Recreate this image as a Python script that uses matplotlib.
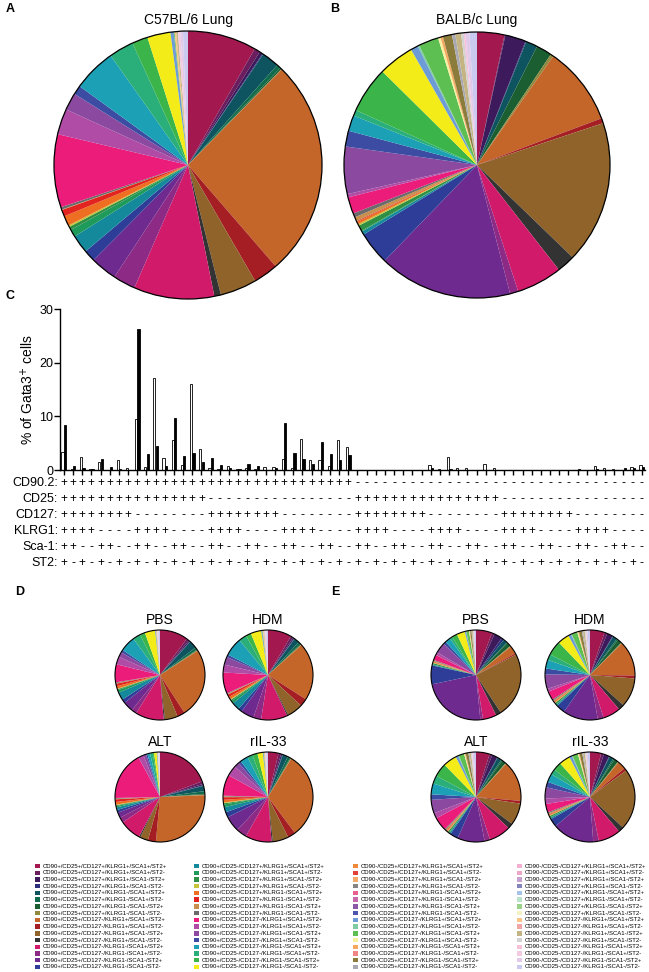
import matplotlib
matplotlib.use('Agg')
import matplotlib.pyplot as plt
import numpy as np
from matplotlib.patches import Circle, Rectangle
import matplotlib.transforms as mtransforms

plt.rcParams['font.family'] = ['Liberation Sans', 'DejaVu Sans']

# ---------------- data ----------------
markers = ['CD90.2', 'CD25', 'CD127', 'KLRG1', 'Sca-1', 'ST2']
legend_markers = ['CD90', 'CD25', 'CD127', 'KLRG1', 'SCA1', 'ST2']

colors = [
    '#A3194F', '#6B1D5E', '#3C1A5B', '#2C2D7C', '#0D5360', '#0F6B4C', '#1B5E31', '#8F8A3E',
    '#C4662A', '#A51E23', '#8F6329', '#333333', '#D21A6B', '#8C2A85', '#6E2A8E', '#2E3D98',
    '#14899C', '#1E9A5A', '#2F8F45', '#C5C43A', '#EE6F22', '#E2231F', '#C8904C', '#6B6B6B',
    '#EC1C7B', '#B04BA6', '#8B4AA0', '#3B4CA2', '#1BA0B6', '#2AAE7A', '#3BB54A', '#F3EC19',
    '#F08A3A', '#E2403A', '#F2A96A', '#858585', '#E9608F', '#C767AD', '#8C58A8', '#4E55AE',
    '#6C9BD6', '#7FCBA4', '#5DBE52', '#F7F0A0', '#F6A85E', '#EF8585', '#8C7C3C', '#A9A9B3',
    '#F3AFCF', '#EEA6C8', '#C7A0D2', '#8484BC', '#A4C2EA', '#BBE2CB', '#9AD18B', '#F2F2C2',
    '#F9C485', '#F1A5A5', '#C4B483', '#D2D2D2', '#F8C1D9', '#F2CAE2', '#E1CAE9', '#CACAF0',
]

# % of Gata3+ cells (panel C); also used for pies A (C57BL/6) and B (BALB/c)
balb = [3.3, 0.1, 2.5, 0.1, 1.4, 0.0, 1.9, 0.35,
        9.5, 0.6, 17.2, 2.2, 5.5, 1.0, 16.1, 4.0,
        0.4, 0.1, 0.7, 0.2, 0.3, 0.1, 0.5, 0.5,
        2.0, 0.4, 5.7, 1.9, 1.9, 0.7, 5.6, 4.3,
        0.0, 0.0, 0.0, 0.0, 0.0, 0.0, 0.0, 0.0,
        0.9, 0.2, 2.4, 0.3, 0.3, 0.0, 1.1, 0.4,
        0.0, 0.0, 0.0, 0.0, 0.0, 0.0, 0.0, 0.0,
        0.0, 0.0, 0.7, 0.3, 0.2, 0.0, 0.5, 0.9]
c57 = [8.3, 0.7, 0.4, 0.1, 2.1, 0.5, 0.2, 0.05,
       26.3, 3.0, 4.4, 0.8, 9.7, 2.7, 3.2, 1.4,
       2.2, 0.9, 0.4, 0.2, 1.2, 0.8, 0.05, 0.3,
       8.8, 3.1, 2.1, 1.1, 5.2, 3.0, 1.9, 2.8,
       0.0, 0.0, 0.0, 0.0, 0.0, 0.0, 0.0, 0.0,
       0.4, 0.0, 0.1, 0.0, 0.0, 0.0, 0.0, 0.0,
       0.0, 0.0, 0.0, 0.0, 0.0, 0.0, 0.0, 0.0,
       0.2, 0.0, 0.2, 0.0, 0.0, 0.3, 0.3, 0.6]

# Panel D (C57BL/6) and E (BALB/c) treatment pies
d_pbs = [11, 1, 0.5, 0.2, 3, 1, 0.3, 0.2, 27, 3, 5, 0.5, 11, 2, 4, 1.5,
         3, 1, 0.4, 0.2, 1, 1, 0.2, 0.3, 7, 3, 2, 1, 6, 3, 2, 4,
         0, 0, 0, 0, 0, 0, 0, 0, 0.3, 0, 0.1, 0, 0, 0, 0, 0,
         0, 0, 0, 0, 0, 0, 0, 0, 0.2, 0, 0.2, 0, 0, 0.3, 0.3, 0.5]
d_hdm = [9, 1, 0.5, 0.2, 2, 1, 0.3, 0.2, 22, 3, 6, 0.5, 10, 3, 5, 1.5,
         3, 1, 0.5, 0.3, 1, 1, 0.3, 0.3, 8, 3, 3, 1, 7, 3, 2, 4,
         0, 0, 0, 0, 0, 0, 0, 0, 0.4, 0, 0.2, 0, 0, 0, 0, 0,
         0, 0, 0, 0, 0, 0, 0, 0, 0.3, 0, 0.3, 0, 0, 0.4, 0.4, 0.6]
d_alt = [20, 1, 0.5, 0.2, 2, 1, 0.3, 0.2, 28, 3, 3, 0.5, 8, 2, 2, 1,
         1, 0.5, 0.3, 0.2, 1, 1, 0.2, 0.3, 18, 2, 1, 0.5, 1, 1, 0.5, 1,
         0, 0, 0, 0, 0, 0, 0, 0, 0.2, 0, 0.1, 0, 0, 0, 0, 0,
         0, 0, 0, 0, 0, 0, 0, 0, 0.1, 0, 0.1, 0, 0, 0.2, 0.2, 0.3]
d_il33 = [4, 1, 0.5, 0.2, 2, 1, 0.3, 0.2, 33, 3, 6, 0.5, 10, 4, 6, 2,
          2, 1, 0.5, 0.3, 1, 1, 0.3, 0.3, 8, 4, 2, 1, 3, 2, 2, 2,
          0, 0, 0, 0, 0, 0, 0, 0, 0.3, 0, 0.2, 0, 0, 0, 0, 0,
          0, 0, 0, 0, 0, 0, 0, 0, 0.2, 0, 0.2, 0, 0, 0.3, 0.3, 0.5]
e_pbs = [6, 1, 3, 1, 1.5, 0.3, 1.5, 0.3, 3, 0.5, 24, 2, 5, 1, 24, 7,
         0.3, 0.1, 0.5, 0.2, 0.3, 0.1, 0.3, 0.3, 2, 1, 4, 1, 2, 1, 2, 3,
         0, 0, 0, 0, 0, 0, 0, 0, 0.5, 0.1, 1, 0.2, 0.2, 0, 0.5, 0.2,
         0, 0, 0, 0, 0, 0, 0, 0, 0, 0, 0.4, 0.2, 0.1, 0, 0.3, 0.5]
e_hdm = [5, 1, 2, 0.2, 1.5, 0.5, 1.5, 0.3, 12, 1, 10, 2, 6, 2, 12, 3,
         0.5, 0.2, 0.5, 0.2, 0.3, 0.2, 0.4, 0.4, 3, 1, 5, 2, 3, 2, 5, 4,
         0, 0, 0, 0, 0, 0, 0, 0, 1, 0.2, 2, 0.3, 0.3, 0, 1, 0.4,
         0, 0, 0, 0, 0, 0, 0, 0, 0, 0, 0.6, 0.3, 0.2, 0, 0.5, 0.8]
e_alt = [5, 1, 2, 0.2, 1.5, 0.5, 1.5, 0.3, 15, 1, 8, 2, 8, 2, 10, 3,
         0.5, 0.2, 0.5, 0.2, 0.3, 0.2, 0.4, 0.4, 5, 2, 5, 2, 4, 3, 5, 5,
         0, 0, 0, 0, 0, 0, 0, 0, 1, 0.2, 2, 0.3, 0.3, 0, 1, 0.4,
         0, 0, 0, 0, 0, 0, 0, 0, 0, 0, 0.6, 0.3, 0.2, 0, 0.5, 0.8]
e_il33 = [4, 1, 2, 0.2, 1.5, 0.5, 1.5, 0.3, 3, 1, 22, 2, 8, 2, 15, 3,
          0.5, 0.2, 0.5, 0.2, 0.3, 0.2, 0.4, 0.4, 3, 2, 4, 2, 3, 2, 3, 4,
          0, 0, 0, 0, 0, 0, 0, 0, 1, 0.2, 2, 0.3, 0.3, 0, 1, 0.4,
          0, 0, 0, 0, 0, 0, 0, 0, 0, 0, 0.6, 0.3, 0.2, 0, 0.5, 0.8]

# ---------------- figure ----------------
W, H = 649, 972
fig = plt.figure(figsize=(W / 100, H / 100), dpi=100)


def ax_px(x0, y0, w, h):
    return fig.add_axes([x0 / W, 1 - (y0 + h) / H, w / W, h / H])


# overlay axes in pixel coordinates
ov = fig.add_axes([0, 0, 1, 1])
ov.set_xlim(0, W)
ov.set_ylim(H, 0)
ov.axis('off')


def draw_pie(cx, cy, r, vals, lw=0.9):
    pad = 3
    ax = ax_px(cx - r - pad, cy - r - pad, 2 * r + 2 * pad, 2 * r + 2 * pad)
    ax.pie(vals, colors=colors, startangle=90, counterclock=False, radius=1,
           wedgeprops=dict(linewidth=0))
    ax.add_patch(Circle((0, 0), 1, fill=False, ec='black', lw=lw))
    lim = 1 + pad / r
    ax.set_xlim(-lim, lim)
    ax.set_ylim(-lim, lim)
    ax.set_aspect('equal')
    ax.axis('off')
    return ax


# Panel labels
for lab, (x, y) in {'A': (10, 9), 'B': (335, 9), 'C': (10, 296), 'D': (20, 592), 'E': (335, 592)}.items():
    ov.text(x, y, lab, fontsize=9, fontweight='bold', ha='center', va='center')

# Pies A and B
draw_pie(188, 165, 134, c57)
ov.text(188, 20, 'C57BL/6 Lung', fontsize=10, ha='center', va='center')
draw_pie(477, 165, 133, balb)
ov.text(477, 20, 'BALB/c Lung', fontsize=10, ha='center', va='center')

# Panel C bar chart
x = np.arange(len(balb))
axc = ax_px(60, 309, 585, 161)
axc.bar(x - 0.135, balb, width=0.25, color='white', edgecolor='black', linewidth=0.6)
axc.bar(x + 0.135, c57, width=0.25, color='black', edgecolor='black', linewidth=0.6)
axc.set_xlim(-0.42, 63.35)
axc.set_ylim(0, 30)
axc.set_yticks([0, 10, 20, 30])
axc.set_xticks(x)
axc.set_xticklabels([])
axc.tick_params(axis='both', direction='out', length=4, width=1, labelsize=9, pad=1)
axc.tick_params(axis='x', length=3.5)
for s in ['top', 'right']:
    axc.spines[s].set_visible(False)
for s in ['left', 'bottom']:
    axc.spines[s].set_linewidth(1)
axc.set_ylabel('% of Gata3$^{+}$ cells', fontsize=10, labelpad=2)

# legend C
ov.add_patch(Rectangle((520, 336), 15, 9, fc='white', ec='black', lw=0.7))
ov.add_patch(Rectangle((520, 357), 15, 9, fc='black', ec='black', lw=0.7))
ov.text(543, 340.5, 'BALB/c', fontsize=9, va='center', ha='left')
ov.text(543, 361.5, 'C57BL/6', fontsize=9, va='center', ha='left')

# marker rows
trans = mtransforms.blended_transform_factory(axc.transData, ov.transData)
row_y = [483, 499, 515, 531, 547, 563]
for r, (name, yy) in enumerate(zip(markers, row_y)):
    ov.text(58, yy, name + ':', fontsize=9, ha='right', va='center')
    for i in range(len(balb)):
        sym = '+' if ((i >> (5 - r)) & 1) == 0 else '-'
        axc.text(i, yy, sym, transform=trans, fontsize=8.5 if sym == '+' else 9,
                 ha='center', va='center', clip_on=False)

# Panels D and E
small = [
    (160, 675, 'PBS', d_pbs), (268, 675, 'HDM', d_hdm),
    (160, 797, 'ALT', d_alt), (268, 797, 'rIL-33', d_il33),
    (476, 675, 'PBS', e_pbs), (590, 675, 'HDM', e_hdm),
    (476, 797, 'ALT', e_alt), (590, 797, 'rIL-33', e_il33),
]
for cx, cy, title, vals in small:
    draw_pie(cx, cy, 45, vals, lw=0.8)
    ov.text(cx, cy - 55, title, fontsize=10, ha='center', va='center')

# Bottom legend
col_x = [35, 194, 353, 517]
y0, dy = 866, 6.73
for c in range(4):
    for k in range(16):
        idx = c * 16 + k
        yy = y0 + k * dy
        parts = []
        for r, m in enumerate(legend_markers):
            parts.append(m + ('+' if ((idx >> (5 - r)) & 1) == 0 else '-'))
        label = '/'.join(parts)
        ov.add_patch(Rectangle((col_x[c], yy - 2.2), 5, 4.4, fc=colors[idx], ec='none'))
        ov.text(col_x[c] + 8, yy, label, fontsize=4.3, ha='left', va='center')

fig.savefig('out.png', dpi=100)
